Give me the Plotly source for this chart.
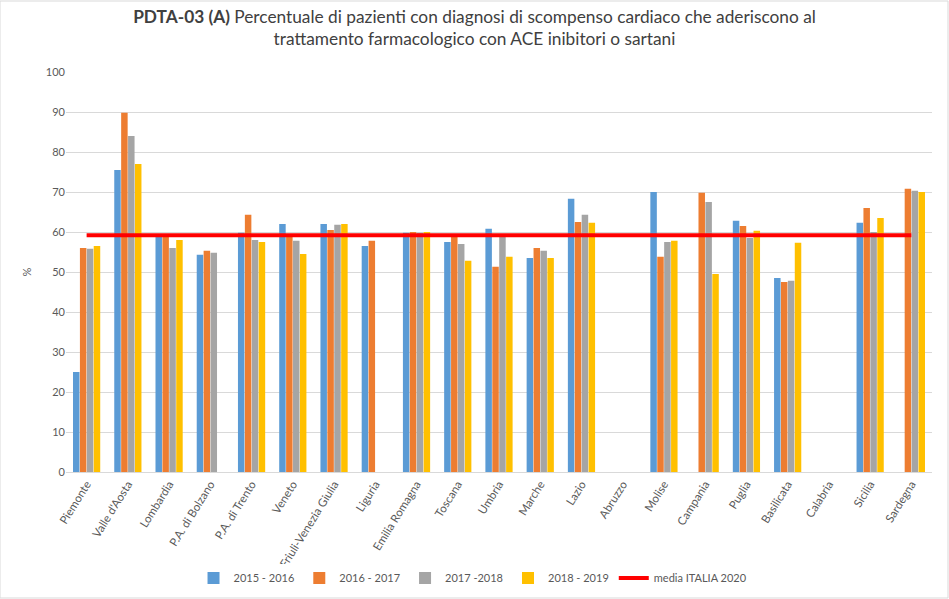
import plotly.graph_objects as go

regions = ["Piemonte", "Valle d'Aosta", "Lombardia", "P.A. di Bolzano", "P.A. di Trento",
           "Veneto", "Friuli-Venezia Giulia", "Liguria", "Emilia Romagna", "Toscana",
           "Umbria", "Marche", "Lazio", "Abruzzo", "Molise", "Campania", "Puglia",
           "Basilicata", "Calabria", "Sicilia", "Sardegna"]

s2015_2016 = [25.0, 75.5, 59.2, 54.3, 59.8, 62.0, 62.0, 56.5, 59.8, 57.5,
              60.8, 53.5, 68.3, None, 70.0, None, 62.8, 48.5, None, 62.3, None]
s2016_2017 = [56.0, 89.8, 59.2, 55.3, 64.3, 59.2, 60.5, 57.8, 60.0, 59.3,
              51.3, 56.0, 62.5, None, 53.8, 69.8, 61.5, 47.5, None, 66.0, 70.8]
s2017_2018 = [55.8, 84.0, 56.0, 54.8, 58.0, 57.8, 61.8, None, 59.8, 57.0,
              59.4, 55.3, 64.3, None, 57.5, 67.5, 58.5, 47.8, None, 60.0, 70.3]
s2018_2019 = [56.5, 77.0, 58.0, None, 57.5, 54.5, 62.0, None, 60.0, 52.8,
              53.8, 53.5, 62.3, None, 57.8, 49.5, 60.3, 57.3, None, 63.5, 70.0]
media_italia_2020 = 59.2

series = [("2015 - 2016", s2015_2016, "#5B9BD5"),
          ("2016 - 2017", s2016_2017, "#ED7D31"),
          ("2017 -2018", s2017_2018, "#A5A5A5"),
          ("2018 - 2019", s2018_2019, "#FFC000")]

FONT = "Lato, 'Open Sans', sans-serif"

fig = go.Figure()
for name, vals, col in series:
    fig.add_trace(go.Bar(name=name, x=regions, y=vals, marker=dict(color=col, line=dict(width=0))))

fig.add_trace(go.Scatter(name="media ITALIA 2020", x=regions, y=[media_italia_2020] * len(regions),
                         mode="lines", line=dict(color="#FF0000", width=4)))

fig.update_layout(
    width=949, height=599,
    margin=dict(l=66, r=17, t=72, b=127, autoexpand=False),
    paper_bgcolor="white", plot_bgcolor="white",
    barmode="group", bargap=0.33, bargroupgap=0.06,
    font=dict(family=FONT, color="#595959", size=11),
    title=dict(
        text="<b>PDTA-03 (A)</b> Percentuale di pazienti con diagnosi di scompenso cardiaco che aderiscono al<br>trattamento farmacologico con ACE inibitori o sartani",
        x=0.5, xanchor="center", y=0.962, yanchor="top",
        font=dict(family=FONT, size=17.3, color="#404040"),
    ),
    legend=dict(orientation="h", x=0.47, xanchor="center", y=-0.265, yanchor="middle",
                font=dict(size=11, color="#595959"), itemwidth=30, traceorder="normal"),
    showlegend=True,
)
fig.update_xaxes(type="category", tickangle=-58, showline=True, linecolor="#d9d9d9", linewidth=1,
                 ticks="", tickfont=dict(size=11.5, color="#595959"), showgrid=False)
fig.update_yaxes(range=[0, 100], dtick=10, showgrid=True, gridcolor="#d9d9d9", gridwidth=1,
                 zeroline=False, ticks="", tickfont=dict(size=11, color="#595959"),
                 title=dict(text="%", font=dict(size=11, color="#595959"), standoff=12))
fig.add_shape(type="rect", xref="paper", yref="paper", x0=-66/866, x1=1 + 16/866,
              y0=-126/400, y1=1 + 71/400, line=dict(color="#d9d9d9", width=1))

fig.write_html("out.html")
